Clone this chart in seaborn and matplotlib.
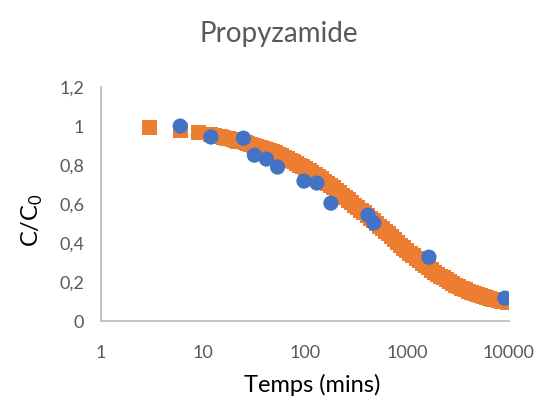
import matplotlib
matplotlib.use("Agg")
import matplotlib.pyplot as plt
import pandas as pd
import seaborn as sns

# experimental points (blue)
exp_time = [6, 12, 25, 32, 42, 54, 98, 131, 180, 415, 475, 1643, 9120]
exp_conc = [1.0, 0.944, 0.938, 0.851, 0.831, 0.79, 0.718, 0.708, 0.605, 0.544, 0.503, 0.328, 0.118]

# model curve (orange squares), read along the band
model_time = [3, 6, 9, 12, 13, 14, 15, 16, 17, 18, 19.5, 21, 22, 24, 26, 27.5, 29.5,
              31.6, 33.9, 36.3, 38.9, 41.7, 44.7, 47.9, 51.3, 55, 58.9, 63.1, 67.6,
              72.4, 77.6, 83.2, 89.1, 95.5, 102, 110, 117, 126, 135, 145, 155, 166,
              178, 191, 204, 219, 234, 251, 269, 288, 309, 331, 355, 380, 407, 437,
              468, 501, 537, 575, 617, 661, 708, 759, 813, 871, 933, 1000, 1072,
              1148, 1230, 1318, 1413, 1514, 1622, 1738, 1862, 1995, 2138, 2291, 2455,
              2630, 2818, 3020, 3236, 3467, 3715, 3981, 4266, 4571, 4898, 5248, 5623,
              6026, 6457, 6918, 7413, 7943, 8511, 9120, 9772, 10000]
model_conc = [0.995, 0.979, 0.966, 0.955, 0.952, 0.948, 0.945, 0.941, 0.938, 0.935,
              0.931, 0.927, 0.923, 0.919, 0.915, 0.911, 0.906, 0.901, 0.896, 0.890,
              0.885, 0.880, 0.874, 0.869, 0.8625, 0.855, 0.8475, 0.840, 0.8325, 0.825,
              0.8175, 0.809, 0.800, 0.791, 0.781, 0.772, 0.763, 0.752, 0.741, 0.729,
              0.717, 0.706, 0.694, 0.683, 0.671, 0.658, 0.646, 0.633, 0.621, 0.608,
              0.595, 0.582, 0.568, 0.555, 0.541, 0.527, 0.514, 0.500, 0.487, 0.474,
              0.461, 0.448, 0.435, 0.420, 0.405, 0.390, 0.375, 0.360, 0.3475, 0.335,
              0.3225, 0.310, 0.2975, 0.285, 0.274, 0.2625, 0.251, 0.240, 0.231, 0.222,
              0.2125, 0.203, 0.194, 0.185, 0.177, 0.1685, 0.160, 0.152, 0.147, 0.142,
              0.137, 0.132, 0.127, 0.122, 0.118, 0.113, 0.109, 0.105, 0.102, 0.099,
              0.096, 0.095]

y_ticks = [0, 0.2, 0.4, 0.6, 0.8, 1.0, 1.2]
y_tick_labels = ["0", "0,2", "0,4", "0,6", "0,8", "1", "1,2"]
x_ticks = [1, 10, 100, 1000, 10000]
x_tick_labels = ["1", "10", "100", "1000", "10000"]

sns.set_style("white")
plt.rcParams["font.family"] = ["Lato", "DejaVu Sans"]

exp_df = pd.DataFrame({"t": exp_time, "c": exp_conc})
model_df = pd.DataFrame({"t": model_time, "c": model_conc})

fig = plt.figure(figsize=(5.42, 4.05), dpi=100)
ax = fig.add_axes([0.186, 0.207, 0.753, 0.578])

sns.scatterplot(data=model_df, x="t", y="c", marker="s", s=118, color="#ED7D31",
                edgecolor="none", linewidth=0, ax=ax, zorder=2)
sns.scatterplot(data=exp_df, x="t", y="c", marker="o", s=120, color="#4472C4",
                edgecolor="none", linewidth=0, ax=ax, zorder=3)

ax.set_xscale("log")
ax.set_xlim(1, 10000)
ax.set_ylim(0, 1.2)
ax.set_xticks(x_ticks)
ax.set_xticklabels(x_tick_labels)
ax.set_yticks(y_ticks)
ax.set_yticklabels(y_tick_labels)
ax.minorticks_off()
ax.tick_params(axis="both", length=0, labelsize=13, labelcolor="#595959")
ax.tick_params(axis="x", pad=17)
ax.tick_params(axis="y", pad=12)

for side in ["top", "right"]:
    ax.spines[side].set_visible(False)
for side in ["left", "bottom"]:
    ax.spines[side].set_color("#BFBFBF")
    ax.spines[side].set_linewidth(1.3)

ax.set_xlabel("Temps (mins)", fontsize=17, color="black")
ax.xaxis.label.set_verticalalignment("center")
ax.xaxis.set_label_coords(0.517, -0.274)
ax.set_ylabel(r"C/C$_\mathregular{0}$", fontsize=17, color="black")
ax.yaxis.label.set_verticalalignment("center")
ax.yaxis.set_label_coords(-0.167, 0.43)
fig.text(0.515, 0.915, "Propyzamide", fontsize=20, color="#595959", ha="center", va="center")

fig.savefig("out.png", dpi=100)
